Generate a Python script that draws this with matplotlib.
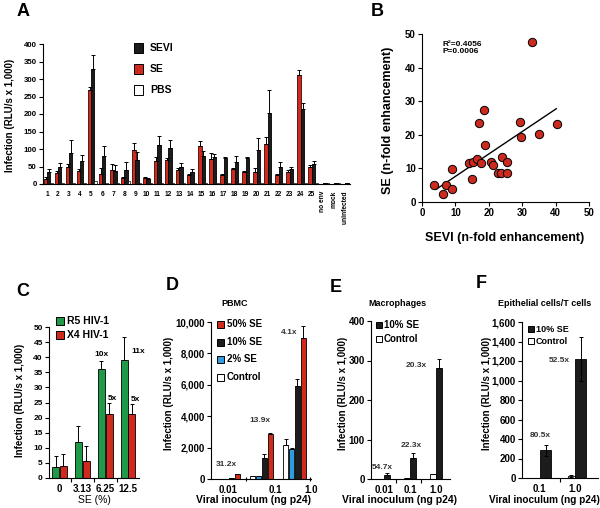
import numpy as np
import matplotlib
matplotlib.use('Agg')
import matplotlib.pyplot as plt
from matplotlib.patches import Rectangle

plt.rcParams['font.family'] = ['Liberation Sans', 'DejaVu Sans']
plt.rcParams['font.weight'] = 'bold'
plt.rcParams['axes.linewidth'] = 0.8
plt.rcParams['xtick.major.width'] = 0.8
plt.rcParams['ytick.major.width'] = 0.8
plt.rcParams['xtick.minor.width'] = 0.8

RED = '#d02a1e'
BLACK = '#1c1c1c'
GREEN = '#1e9a48'
BLUE = '#2f9be0'

# ---- panel A : isolates
isolates = [str(i) for i in range(1, 26)] + ['no env', 'mock', 'uninfected']
se_a = [15, 32, 50, 37, 268, 30, 40, 17, 98, 18, 65, 68, 40, 25, 108, 72, 25, 42, 35, 33, 115, 25, 35, 312, 50, 0, 0, 0]
se_a_err = [5, 5, 8, 6, 9, 15, 17, 4, 19, 2, 12, 5, 5, 4, 15, 16, 4, 5, 2, 12, 20, 4, 5, 13, 4, 0, 0, 0]
sevi_a = [35, 50, 88, 65, 330, 80, 38, 40, 68, 15, 112, 103, 50, 33, 80, 78, 73, 62, 73, 98, 202, 50, 42, 215, 58, 3, 2, 3]
sevi_a_err = [8, 10, 37, 18, 38, 28, 17, 22, 24, 2, 25, 24, 10, 10, 14, 8, 5, 18, 4, 34, 66, 12, 6, 17, 7, 1, 0, 1]
pbs_a = [3, 3, 3, 3, 10, 3, 3, 8, 3, 3, 3, 3, 3, 3, 3, 3, 3, 3, 3, 3, 4, 3, 3, 4, 3, 2, 2, 4]

# ---- panel B : correlation
sevi_fold = [3.7, 6.2, 7.3, 9.1, 9.1, 14.1, 15.1, 15.4, 16.5, 17.2, 17.8, 18.7, 19.0,
             20.7, 21.3, 22.9, 23.6, 23.9, 25.5, 25.5, 29.3, 29.5, 32.9, 35.0, 40.4]
se_fold = [5.1, 2.5, 5.2, 9.9, 3.9, 11.5, 6.7, 12.0, 12.9, 23.6, 11.7, 27.3, 17.0,
           12.0, 10.9, 8.5, 8.5, 13.3, 11.8, 8.5, 23.8, 19.3, 47.7, 20.3, 23.2]
fit_range = [4.2, 40.2]

# ---- panel C
se_pct = ['0', '3.13', '6.25', '12.5']
r5 = [3.7, 12.0, 36.2, 39.1]
r5_err = [3.6, 5.2, 2.5, 7.5]
x4 = [4.1, 5.6, 21.3, 21.1]
x4_err = [3.7, 5.0, 3.4, 3.3]
c_fold = ['', '', '10x', '11x']
c_fold_x4 = ['', '', '5x', '5x']

# ---- panel D : PBMC
inoc_d = ['0.01', '0.1', '1.0']
d_control = [10, 180, 2150]
d_control_err = [0, 30, 400]
d_2 = [20, 170, 1900]
d_2_err = [0, 20, 100]
d_10 = [80, 1350, 5950]
d_10_err = [0, 250, 450]
d_50 = [300, 2850, 9000]
d_50_err = [40, 100, 750]
d_fold = ['31.2x', '13.9x', '4.1x']

# ---- panel E : macrophages
inoc_e = ['0.01', '0.1', '1.0']
e_control = [0, 2, 12]
e_control_err = [0, 0, 1]
e_se = [10, 52, 282]
e_se_err = [4, 13, 23]
e_fold = ['54.7x', '22.3x', '20.3x']

# ---- panel F : epithelial cells / T cells
inoc_f = ['0.1', '1.0']
f_control = [5, 20]
f_control_err = [0, 12]
f_se = [285, 1225]
f_se_err = [58, 225]
f_fold = ['80.5x', '52.5x']

W, H = 600, 508
fig = plt.figure(figsize=(6, 5.08), dpi=100)


def px_axes(l, t, r, b):
    ax = fig.add_axes([l / W, 1 - b / H, (r - l) / W, (b - t) / H])
    ax.spines['top'].set_visible(False)
    ax.spines['right'].set_visible(False)
    ax.tick_params(direction='out', length=3, pad=1.5)
    return ax


def ftext(x, y, s, **kw):
    fig.text(x / W, 1 - y / H, s, **kw)


def fbox(x, y, w, h, color):
    fig.add_artist(Rectangle((x / W, 1 - (y + h) / H), w / W, h / H, transform=fig.transFigure,
                             facecolor=color, edgecolor='black', lw=0.7))


def bars(ax, x, vals, errs, width, color, edge='black', both=False):
    lower = errs if both else [0] * len(errs)
    ax.bar(x, vals, width, color=color, edgecolor=edge, lw=0.6, zorder=2)
    ax.errorbar(x, vals, yerr=[lower, errs], fmt='none', ecolor='black', elinewidth=0.7,
                capsize=1.5, capthick=0.7, zorder=3)


# ================= A
ax = px_axes(43, 44, 350, 184)
xa = np.arange(len(isolates))
bars(ax, xa - 0.13, se_a, se_a_err, 0.36, RED, edge='#3a0a05')
bars(ax, xa + 0.15, sevi_a, sevi_a_err, 0.3, BLACK)
ax.bar(xa + 0.42, pbs_a, 0.24, color='white', edgecolor='black', lw=0.5, zorder=2)
ax.set_xlim(-0.36, 27.45)
ax.set_ylim(0, 400)
ax.set_yticks(range(0, 401, 50))
ax.tick_params(axis='y', labelsize=5.7)
ax.set_xticks(xa)
ax.set_xticklabels(isolates, fontsize=4.8)
ax.tick_params(axis='x', length=0, pad=5)
for lab in ax.get_xticklabels()[25:]:
    lab.set_rotation(90)
    lab.set_va('top')
ftext(10, 115, 'Infection (RLU/s x 1,000)', rotation=90, ha='center', va='center', fontsize=7)
for y, c, s in [(48, BLACK, 'SEVI'), (69, RED, 'SE'), (90, 'white', 'PBS')]:
    fbox(134, y - 5, 9, 10, c)
    ftext(150, y, s, fontsize=7.5, va='center')
ftext(23, 12, 'A', fontsize=13, ha='center', va='center')

# ================= B
ax = px_axes(422, 34, 589, 202)
ax.scatter(sevi_fold, se_fold, s=36, color='#cc2a1f', edgecolor='black', lw=0.7, zorder=3)
slope, icpt = np.polyfit(sevi_fold, se_fold, 1)
fx = np.array(fit_range)
ax.plot(fx, slope * fx + icpt, color='black', lw=1.0, zorder=2)
ax.set_xlim(0, 50)
ax.set_ylim(0, 50)
ax.set_xticks(range(0, 51, 10))
ax.set_yticks(range(0, 51, 10))
ax.tick_params(labelsize=7)
ax.text(0.12, 0.96, 'R\u00b2=0.4056\nP=0.0006', transform=ax.transAxes, fontsize=6,
        va='top', linespacing=1.1)
ftext(505, 238, 'SEVI (n-fold enhancement)', fontsize=9, ha='center', va='center')
ftext(388, 120, 'SE (n-fold enhancement)', fontsize=9, rotation=90, ha='center', va='center')
ftext(377, 11, 'B', fontsize=13, ha='center', va='center')

# ================= C
ax = px_axes(49, 327, 139, 478)
xc = np.arange(len(se_pct))
bars(ax, xc - 0.17, r5, r5_err, 0.31, GREEN)
bars(ax, xc + 0.17, x4, x4_err, 0.31, RED)
for i in range(len(se_pct)):
    if c_fold[i]:
        ax.text(xc[i] - 0.17 + (0.32 if i == 3 else 0), r5[i] + r5_err[i] + (-6 if i == 3 else 1),
                c_fold[i], fontsize=6, ha='center' if i != 3 else 'left', va='bottom')
    if c_fold_x4[i]:
        ax.text(xc[i] + 0.32, x4[i] + x4_err[i] + 0.5, c_fold_x4[i], fontsize=6, ha='center', va='bottom')
ax.set_xlim(-0.46, 3.48)
ax.set_ylim(0, 50)
ax.set_yticks(range(0, 51, 5))
ax.tick_params(axis='y', labelsize=6)
ax.set_xticks(xc)
ax.set_xticklabels(se_pct, fontsize=7)
ax.set_xticks([0.5, 1.5, 2.5], minor=True)
ax.tick_params(axis='x', which='major', length=0, pad=4)
ax.tick_params(axis='x', which='minor', length=3, direction='out')
ax.set_xlabel('SE (%)', fontsize=7.5, labelpad=1)
ftext(20, 400, 'Infection (RLU/s x 1,000)', rotation=90, ha='center', va='center', fontsize=7)
for y, c, s in [(321, GREEN, 'R5 HIV-1'), (335, RED, 'X4 HIV-1')]:
    fbox(56, y - 4, 8, 8, c)
    ftext(67, y, s, fontsize=7.5, va='center')
ftext(23, 292, 'C', fontsize=13, ha='center', va='center')

# ================= D
ax = px_axes(211, 322, 311, 479)
xd = np.arange(len(inoc_d))
bars(ax, xd - 0.27, d_control, d_control_err, 0.17, 'white')
bars(ax, xd - 0.09, d_2, d_2_err, 0.17, BLUE)
bars(ax, xd + 0.09, d_10, d_10_err, 0.17, BLACK)
bars(ax, xd + 0.27, d_50, d_50_err, 0.17, RED)
dfx = [-0.05, 0.95, 1.85]
dfy = [700, 3500, 9100]
for i, s in enumerate(d_fold):
    ax.text(dfx[i], dfy[i], s, fontsize=6, ha='center', va='bottom', color='#333333')
ax.set_xlim(-0.53, 2.5)
ax.set_ylim(0, 10000)
dt = list(range(0, 10001, 2000))
ax.set_yticks(dt)
ax.set_yticklabels([f'{v:,}' for v in dt], fontsize=7)
ax.set_xticks([0, 1.42, 2.49])
ax.set_xticklabels(inoc_d, fontsize=7)
ax.set_xticks([0.53, 2.47], minor=True)
ax.tick_params(axis='x', which='major', length=0, pad=4)
ax.tick_params(axis='x', which='minor', length=3, direction='inout')
ftext(253, 500, 'Viral inoculum (ng p24)', fontsize=7.5, ha='center', va='center')
ftext(169, 393, 'Infection (RLU/s x 1,000)', rotation=90, ha='center', va='center', fontsize=7)
ftext(221, 303, 'PBMC', fontsize=6.5, va='center')
for y, c, s in [(324, RED, '50% SE'), (342, BLACK, '10% SE'), (359, BLUE, '2% SE'), (377, 'white', 'Control')]:
    fbox(217, y - 3.5, 7, 7, c)
    ftext(227, y, s, fontsize=7, va='center')
ftext(172, 286, 'D', fontsize=13, ha='center', va='center')

# ================= E
ax = px_axes(371, 321, 450, 479)
xe = np.arange(len(inoc_e))
bars(ax, xe - 0.12, e_control, e_control_err, 0.24, 'white')
bars(ax, xe + 0.12, e_se, e_se_err, 0.24, BLACK)
efx = [-0.05, 1.05, 1.25]
efy = [20, 75, 278]
for i, s in enumerate(e_fold):
    ax.text(efx[i], efy[i], s, fontsize=6, ha='center', va='bottom', color='#333333')
ax.set_xlim(-0.5, 2.54)
ax.set_ylim(0, 400)
ax.set_yticks(range(0, 401, 100))
ax.tick_params(axis='y', labelsize=7)
ax.set_xticks(xe)
ax.set_xticklabels(inoc_e, fontsize=7)
ax.set_xticks([0.46, 1.42], minor=True)
ax.tick_params(axis='x', which='major', length=0, pad=4)
ax.tick_params(axis='x', which='minor', length=3, direction='out')
ftext(400, 500, 'Viral inoculum (ng p24)', fontsize=7.5, ha='center', va='center')
ftext(343, 393, 'Infection (RLU/s x 1,000)', rotation=90, ha='center', va='center', fontsize=7)
ftext(397, 303, 'Macrophages', fontsize=6.5, ha='center', va='center')
for y, c, s in [(325, BLACK, '10% SE'), (339, 'white', 'Control')]:
    fbox(376, y - 3, 6, 6, c)
    ftext(384, y, s, fontsize=7, va='center')
ftext(336, 287, 'E', fontsize=13, ha='center', va='center')

# ================= F
ax = px_axes(522, 322, 598, 478)
xf = np.arange(len(inoc_f))
bars(ax, xf - 0.1, f_control, f_control_err, 0.18, 'white', both=True)
bars(ax, xf + 0.17, f_se, f_se_err, 0.32, BLACK, both=True)
ffx = [0.0, 0.55]
ffy = [440, 1210]
for i, s in enumerate(f_fold):
    ax.text(ffx[i], ffy[i], s, fontsize=6, ha='center', va='center', color='#333333')
ax.set_xlim(-0.51, 1.66)
ax.set_ylim(0, 1600)
ft = list(range(0, 1601, 200))
ax.set_yticks(ft)
ax.set_yticklabels([f'{v:,}' for v in ft], fontsize=7)
ax.set_xticks(xf)
ax.set_xticklabels(inoc_f, fontsize=7)
ax.set_xticks([0.57], minor=True)
ax.tick_params(axis='x', which='major', length=0, pad=4)
ax.tick_params(axis='x', which='minor', length=3, direction='out')
ftext(544, 500, 'Viral inoculum (ng p24)', fontsize=7.2, ha='center', va='center')
ftext(487, 393, 'Infection (RLU/s x 1,000)', rotation=90, ha='center', va='center', fontsize=7)
ftext(545, 303, 'Epithelial cells/T cells', fontsize=6.5, ha='center', va='center')
for y, c, s in [(329, BLACK, '10% SE'), (341, 'white', 'Control')]:
    fbox(528, y - 3, 6, 6, c)
    ftext(536, y, s, fontsize=6.5, va='center')
ftext(481, 284, 'F', fontsize=13, ha='center', va='center')

fig.savefig('out.png', dpi=100)
